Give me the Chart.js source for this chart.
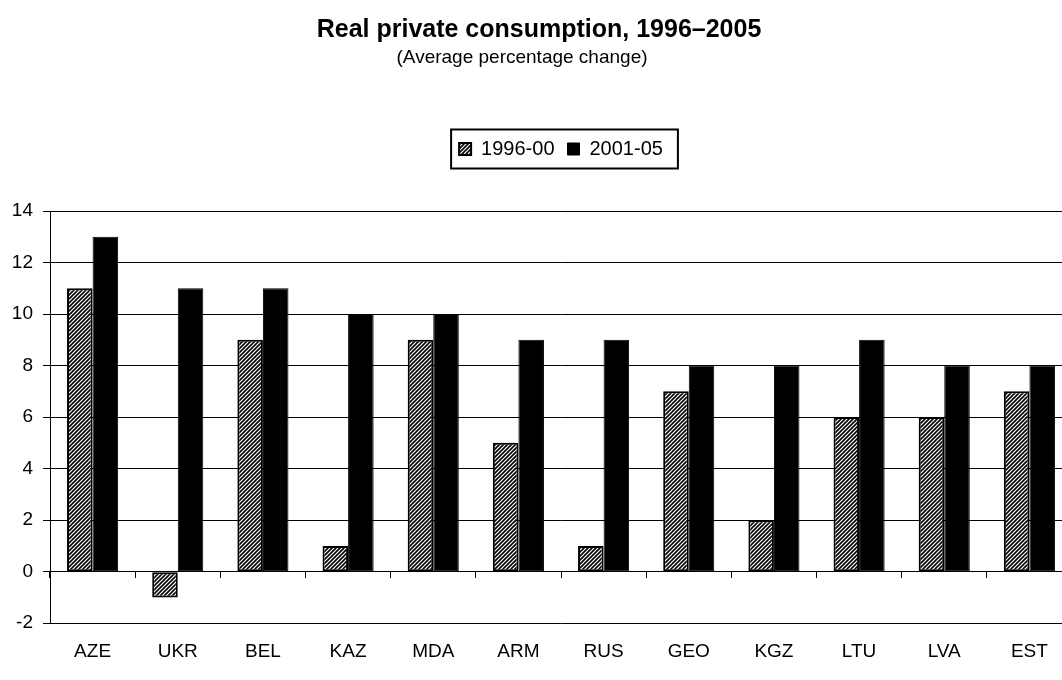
<!DOCTYPE html>
<html lang="en">
<head>
  <meta charset="UTF-8">
  <title>Real private consumption, 1996–2005</title>
  <style>
    html, body {
      margin: 0;
      padding: 0;
      background: #fff;
      overflow: hidden;
    }

    .wrap {
      position: relative;
      width: 1078px;
      height: 680px;
    }
  </style>
</head>
<body>
  <div class="wrap"><canvas id="chart"></canvas></div>

  <script src="https://cdn.jsdelivr.net/npm/chart.js"></script>
  <script>
    const chartTitle = 'Real private consumption, 1996–2005';
    const chartSubtitle = '(Average percentage change)';

    const countries = ['AZE', 'UKR', 'BEL', 'KAZ', 'MDA', 'ARM', 'RUS', 'GEO', 'KGZ', 'LTU', 'LVA', 'EST'];
    const seriesNames = ['1996-00', '2001-05'];
    const growth9600 = [11, -1, 9, 1, 9, 5, 1, 7, 2, 6, 6, 7];
    const growth0105 = [13, 11, 11, 10, 10, 9, 9, 8, 8, 9, 8, 8];
    const yTicks = [-2, 0, 2, 4, 6, 8, 10, 12, 14];

    Chart.defaults.font.family = '"Liberation Sans", Arial, sans-serif';
    Chart.defaults.color = '#000';

    const canvas = document.getElementById('chart');
    const ctx = canvas.getContext('2d');

    // diagonal hatch fill for the first series
    function hatchPattern() {
      const tile = document.createElement('canvas');
      tile.width = 4;
      tile.height = 4;
      const g = tile.getContext('2d');
      g.fillStyle = '#fff';
      g.fillRect(0, 0, 4, 4);
      g.strokeStyle = '#000';
      g.lineWidth = 1.6;
      g.beginPath();
      g.moveTo(0, 4); g.lineTo(4, 0);
      g.moveTo(-1, 1); g.lineTo(1, -1);
      g.moveTo(3, 5); g.lineTo(5, 3);
      g.stroke();
      return ctx.createPattern(tile, 'repeat');
    }

    // title + subtitle, they are not centred on the same point in the original
    const headings = {
      id: 'headings',
      afterDraw(chart) {
        const c = chart.ctx;
        c.save();
        c.fillStyle = '#000';
        c.textAlign = 'center';
        c.textBaseline = 'middle';
        c.font = 'bold 25px "Liberation Sans", Arial, sans-serif';
        c.fillText(chartTitle, 539, 30);
        c.font = '19px "Liberation Sans", Arial, sans-serif';
        c.fillText(chartSubtitle, 522, 58);
        c.restore();
      }
    };

    // framed legend with extra room below it
    const legendFrame = {
      id: 'legendFrame',
      beforeInit(chart) {
        const originalFit = chart.legend.fit;
        chart.legend.fit = function fit() {
          originalFit.bind(chart.legend)();
          this.height += 42;
        };
      },
      afterDraw(chart) {
        const boxes = chart.legend.legendHitBoxes;
        if (!boxes || !boxes.length) return;
        const first = boxes[0];
        const last = boxes[boxes.length - 1];
        const x0 = first.left - 8;
        const x1 = last.left + last.width + 15;
        const cy = first.top + first.height / 2;
        const c = chart.ctx;
        c.save();
        c.strokeStyle = '#000';
        c.lineWidth = 2;
        c.strokeRect(x0, cy - 19.5, x1 - x0, 39);
        c.restore();
      }
    };

    new Chart(ctx, {
      type: 'bar',
      data: {
        labels: countries,
        datasets: [
          {
            label: seriesNames[0],
            data: growth9600,
            backgroundColor: hatchPattern(),
            borderColor: '#000',
            borderWidth: 2,
            borderSkipped: false
          },
          {
            label: seriesNames[1],
            data: growth0105,
            backgroundColor: '#000',
            borderColor: '#000',
            borderWidth: 1,
            borderSkipped: false
          }
        ]
      },
      options: {
        responsive: true,
        maintainAspectRatio: false,
        animation: false,
        categoryPercentage: 0.6,
        barPercentage: 1,
        layout: {
          padding: { top: 126, right: 6, bottom: 0, left: 0 }
        },
        plugins: {
          title: { display: false },
          tooltip: { enabled: false },
          legend: {
            position: 'top',
            fullSize: false,
            labels: {
              boxWidth: 12,
              boxHeight: 12,
              padding: 13,
              color: '#000',
              font: { size: 20 }
            }
          }
        },
        scales: {
          x: {
            grid: { display: false, drawTicks: false },
            border: { display: false },
            ticks: { color: '#000', font: { size: 19 }, padding: 17 }
          },
          x2: {
            type: 'category',
            position: { y: 0 },
            offset: true,
            grid: { offset: true, drawOnChartArea: false, tickLength: 6, color: '#000' },
            ticks: { display: false },
            border: { display: false }
          },
          y: {
            min: -2,
            max: 14,
            afterBuildTicks(scale) {
              scale.ticks = yTicks.map(v => ({ value: v }));
            },
            afterFit(scale) {
              scale.width = 50;
            },
            ticks: { color: '#000', font: { size: 19 }, padding: 10 },
            grid: { color: '#000', lineWidth: 1, tickLength: 7 },
            border: { display: true, color: '#000', width: 1 }
          }
        }
      },
      plugins: [headings, legendFrame]
    });
  </script>
</body>
</html>
